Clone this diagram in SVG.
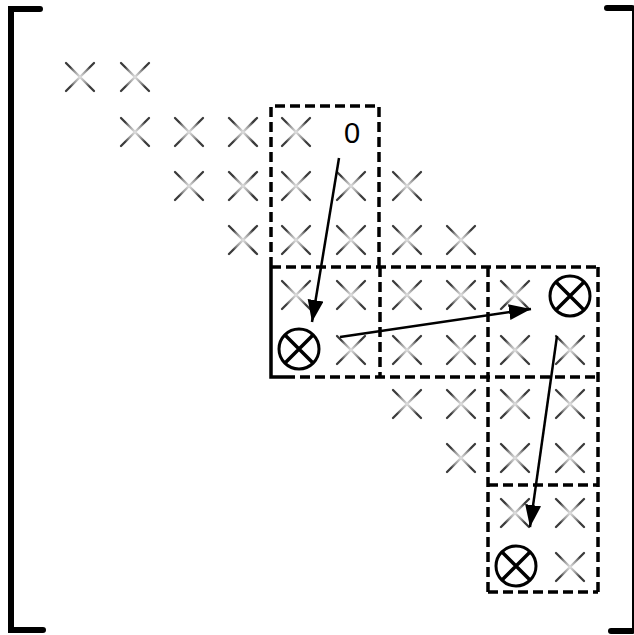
<svg xmlns="http://www.w3.org/2000/svg" xmlns:xlink="http://www.w3.org/1999/xlink" width="634" height="635" viewBox="0 0 634 635">
<style>
.box{fill:none;stroke:#000;stroke-width:3.5;stroke-dasharray:10 5}
.solid{fill:none;stroke:#000;stroke-width:3.5}
.br{fill:none;stroke:#000;stroke-width:6;stroke-linecap:round}
.xx{fill:none;stroke:url(#xg);stroke-width:2.3;stroke-linecap:round}
.ot{fill:#fff;stroke:#000;stroke-width:3}
.arr{fill:none;stroke:#000;stroke-width:2.5;marker-end:url(#ah)}
.lbl{font-family:"Liberation Sans",Arial,sans-serif;font-size:29px;fill:#000;text-anchor:middle}
</style>
<defs>
<radialGradient id="xg" cx="0.5" cy="0.5" r="0.5">
<stop offset="0" stop-color="#e0e0e0"/>
<stop offset="0.6" stop-color="#929292"/>
<stop offset="1" stop-color="#3a3a3a"/>
</radialGradient>
<path id="x" class="xx" d="M-14,-14 L14,14 M14,-14 L-14,14"/>
<g id="o">
<circle r="20" class="ot"/>
<path d="M-14,-14 L14,14 M14,-14 L-14,14" stroke="#000" stroke-width="3.5" fill="none"/>
</g>
<marker id="ah" markerUnits="userSpaceOnUse" markerWidth="26" markerHeight="18" refX="22" refY="8" orient="auto">
<path d="M0,0 L22,8 L0,16 Z" fill="#000"/>
</marker>
</defs>
<g id="brackets">
<path class="br" d="M40,9 H11 V630 H43"/>
<path class="br" d="M607,8 H632"/>
<path class="br" d="M611,631 H632"/>
<path d="M633,8 V631" stroke="#000" stroke-width="2" fill="none"/>
</g>
<g id="blocks">
<path id="b1" class="box" d="M271,267 V106 H379 V267"/>
<path class="box" d="M271,267 H598"/>
<path class="solid" d="M271,267 V377 H285"/>
<path class="box" d="M285,377 H598"/>
<path class="box" d="M380,267 V377"/>
<path class="box" d="M488,267 V592"/>
<path class="box" d="M598,267 V592"/>
<path class="box" d="M488,485 H598"/>
<path class="box" d="M488,592 H598"/>
</g>
<g id="entries">
<use xlink:href="#x" x="80" y="77"/><use xlink:href="#x" x="135" y="77"/>
<use xlink:href="#x" x="135" y="132"/><use xlink:href="#x" x="189" y="132"/><use xlink:href="#x" x="243" y="132"/><use xlink:href="#x" x="296" y="132"/>
<use xlink:href="#x" x="189" y="186"/><use xlink:href="#x" x="243" y="186"/><use xlink:href="#x" x="296" y="186"/><use xlink:href="#x" x="351" y="186"/><use xlink:href="#x" x="407" y="186"/>
<use xlink:href="#x" x="243" y="240"/><use xlink:href="#x" x="296" y="240"/><use xlink:href="#x" x="351" y="240"/><use xlink:href="#x" x="407" y="240"/><use xlink:href="#x" x="461" y="240"/>
<use xlink:href="#x" x="296" y="295"/><use xlink:href="#x" x="351" y="295"/><use xlink:href="#x" x="407" y="295"/><use xlink:href="#x" x="461" y="295"/><use xlink:href="#x" x="515" y="295"/>
<use xlink:href="#x" x="351" y="350"/><use xlink:href="#x" x="407" y="350"/><use xlink:href="#x" x="461" y="350"/><use xlink:href="#x" x="515" y="350"/><use xlink:href="#x" x="570" y="350"/>
<use xlink:href="#x" x="407" y="404"/><use xlink:href="#x" x="461" y="404"/><use xlink:href="#x" x="515" y="404"/><use xlink:href="#x" x="570" y="404"/>
<use xlink:href="#x" x="461" y="458"/><use xlink:href="#x" x="515" y="458"/><use xlink:href="#x" x="570" y="458"/>
<use xlink:href="#x" x="515" y="513"/><use xlink:href="#x" x="570" y="513"/>
<use xlink:href="#x" x="570" y="567"/>
</g>
<g id="pivot1"><use xlink:href="#o" x="299" y="349"/></g>
<g id="pivot2"><use xlink:href="#o" x="570" y="296"/></g>
<g id="pivot3"><use xlink:href="#o" x="516" y="566"/></g>
<g id="zero"><text class="lbl" x="352" y="143">0</text></g>
<g id="connectors">
<line class="arr" x1="339" y1="158" x2="312" y2="322"/>
<line class="arr" x1="340" y1="337" x2="531" y2="309"/>
<line class="arr" x1="557" y1="336" x2="530" y2="527"/>
</g>
</svg>
